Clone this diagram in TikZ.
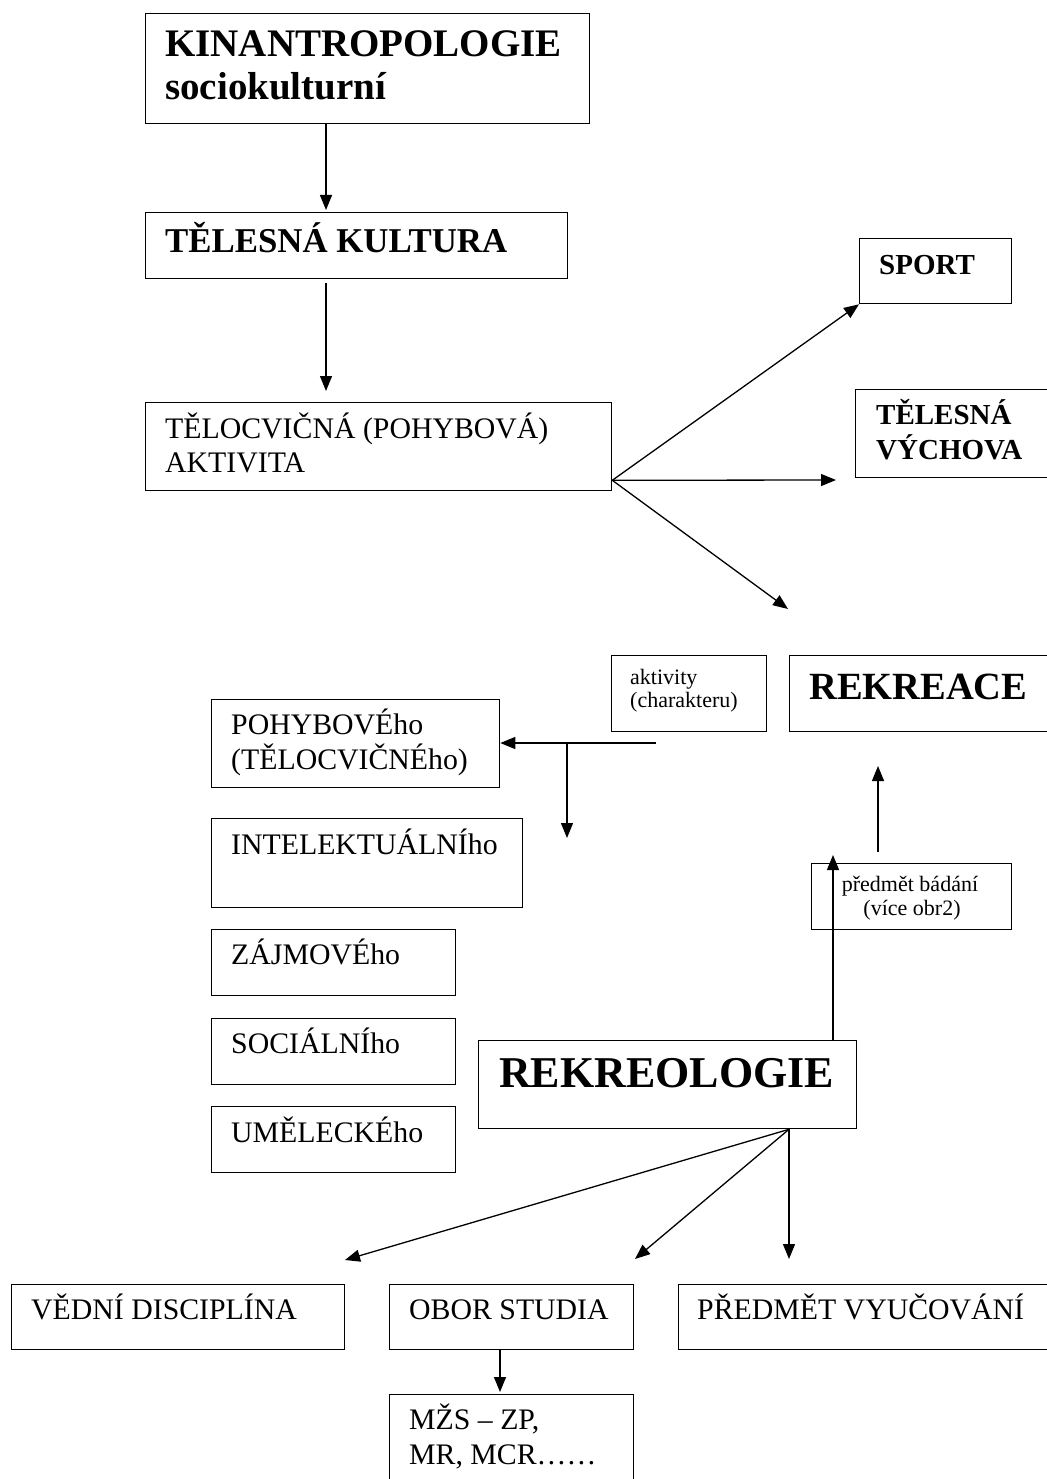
\documentclass[tikz,border=0pt]{standalone}
\usepackage{fontspec}
\setmainfont{Liberation Serif}
\usetikzlibrary{arrows.meta}
\newcommand{\fs}[1]{\fontsize{#1}{#1}\selectfont}
\begin{document}
\begin{tikzpicture}[x=1pt,y=-1pt,
  box/.style={draw, line width=1.3pt, inner sep=0pt, anchor=north west},
  txt/.style={anchor=base west, inner sep=0pt},
  ctxt/.style={anchor=base, inner sep=0pt},
  arr/.style={line width=1.3pt, -{Triangle[length=15pt,width=12pt]}},
  bigb/.style={font=\fs{39}\bfseries},
  midb/.style={font=\fs{29}\bfseries},
  reg/.style={font=\fs{29.8}},
  sml/.style={font=\fs{22}}]
\useasboundingbox (0,0) rectangle (1046,1479);
\fill[white] (0,0) rectangle (1046,1479);

% boxes
\node[box, minimum width=444pt, minimum height=110pt] (kin) at (145,13) {};
\node[box, minimum width=422pt, minimum height=66pt] (tk) at (145,212) {};
\node[box, minimum width=466pt, minimum height=88pt] (ta) at (145,402) {};
\node[box, minimum width=152pt, minimum height=65pt] (sport) at (859,238) {};
\node[box, minimum width=210pt, minimum height=88pt] (tv) at (855,389) {};
\node[box, minimum width=155pt, minimum height=76pt] (akt) at (611,655) {};
\node[box, minimum width=270pt, minimum height=76pt] (rek) at (789,655) {};
\node[box, minimum width=288pt, minimum height=88pt] (poh) at (211,699) {};
\node[box, minimum width=311pt, minimum height=89pt] (int) at (211,818) {};
\node[box, minimum width=244pt, minimum height=66pt] (zaj) at (211,929) {};
\node[box, minimum width=244pt, minimum height=66pt] (soc) at (211,1018) {};
\node[box, minimum width=244pt, minimum height=66pt] (ume) at (211,1106) {};
\node[box, minimum width=200pt, minimum height=66pt] (pb) at (811,863) {};
\node[box, minimum width=378pt, minimum height=88pt] (reo) at (478,1040) {};
\node[box, minimum width=333pt, minimum height=65pt] (vd) at (11,1284) {};
\node[box, minimum width=244pt, minimum height=65pt] (ob) at (389,1284) {};
\node[box, minimum width=390pt, minimum height=65pt] (pv) at (678,1284) {};
\node[box, minimum width=244pt, minimum height=100pt] (mzs) at (389,1394) {};

% texts
\node[txt, bigb] (kint1) at (165,57) {KINANTROPOLOGIE};
\node[txt, bigb] (kint2) at (165,100) {sociokulturní};
\node[txt, font=\fs{34.8}\bfseries] (tkt) at (165,253) {TĚLESNÁ KULTURA};
\node[txt, reg] (tat1) at (165,438) {TĚLOCVIČNÁ (POHYBOVÁ)};
\node[txt, reg] (tat2) at (165,472) {AKTIVITA};
\node[txt, midb] (sportt) at (879,274) {SPORT};
\node[txt, midb] (tvt1) at (876,424) {TĚLESNÁ};
\node[txt, midb] (tvt2) at (876,459) {VÝCHOVA};
\node[txt, sml] (aktt1) at (630,684) {aktivity};
\node[txt, sml] (aktt2) at (630,707) {(charakteru)};
\node[txt, font=\fs{38.5}\bfseries] (rekt) at (809,699) {REKREACE};
\node[txt, reg] (poht1) at (231,734) {POHYBOVÉho};
\node[txt, reg] (poht2) at (231,769) {(TĚLOCVIČNÉho)};
\node[txt, reg] (intt) at (231,854) {INTELEKTUÁLNÍho};
\node[txt, reg] (zajt) at (231,964) {ZÁJMOVÉho};
\node[txt, reg] (soct) at (231,1053) {SOCIÁLNÍho};
\node[txt, reg] (umet) at (231,1142) {UMĚLECKÉho};
\node[ctxt, sml] (pbt1) at (910,891) {předmět bádání};
\node[ctxt, sml] (pbt2) at (912,915) {(více obr2)};
\node[txt, font=\fs{44}\bfseries] (reot) at (499,1087) {REKREOLOGIE};
\node[txt, reg] (vdt) at (31,1319) {VĚDNÍ DISCIPLÍNA};
\node[txt, reg] (obt) at (409,1319) {OBOR STUDIA};
\node[txt, reg] (pvt) at (697,1319) {PŘEDMĚT VYUČOVÁNÍ};
\node[txt, reg] (mzst1) at (409,1429) {MŽS – ZP,};
\node[txt, reg] (mzst2) at (409,1464) {MR, MCR……};

% free ends
\coordinate (fan) at ([yshift=11pt]ta.south east);
\coordinate (tvend) at (836,480);
\coordinate (rekend) at (788,609);
\coordinate (aktstart) at (656,743);
\coordinate (br) at (567,743);
\coordinate (brend) at (567,838);
\coordinate (pbup) at (833,855);
\coordinate (rekin) at (878,766);
\coordinate (bfan) at ([xshift=311pt]reo.south west);
\coordinate (vdend) at (345,1260);
\coordinate (obend) at (635,1259);
\coordinate (pvend) at (789,1259);

% connectors
\draw[arr] ([xshift=181pt]kin.south west) -- ([xshift=181pt,yshift=2pt]tk.north west);
\draw[arr] ([xshift=181pt,yshift=-4pt]tk.south west) -- ([xshift=181pt,yshift=11pt]ta.north west);
\draw[arr] (fan) -- (sport.south west);
\draw[arr] (fan) -- (tvend);
\draw[arr] (fan) -- (rekend);
\draw[arr] (aktstart) -- (aktstart -| poh.east);
\draw[arr] (br) -- (brend);
\draw[arr] ([xshift=355pt]reo.north west) -- (pbup);
\draw[arr] ([xshift=67pt,yshift=11pt]pb.north west) -- (rekin);
\draw[arr] (bfan) -- (vdend);
\draw[arr] (bfan) -- (obend);
\draw[arr] (bfan) -- (pvend);
\draw[arr] ([xshift=111pt]ob.south west) -- ([xshift=111pt,yshift=2pt]mzs.north west);
\end{tikzpicture}
\end{document}
